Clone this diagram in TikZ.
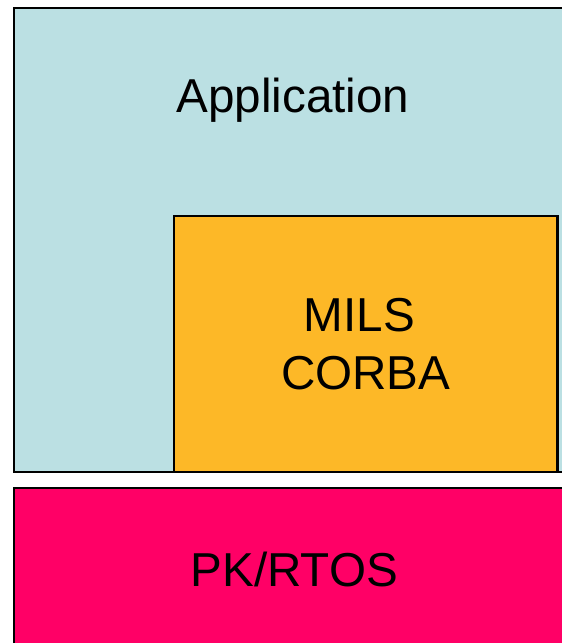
\documentclass[tikz,border=0pt]{standalone}
\usepackage{fontspec}
\setmainfont{Liberation Sans}
\usetikzlibrary{positioning}
\definecolor{appblue}{HTML}{BBE0E3}
\definecolor{corbaorange}{HTML}{FDB827}
\definecolor{rtospink}{HTML}{FF0066}

\begin{document}
\begin{tikzpicture}[x=1pt, y=-1pt,
  layer/.style={rectangle, draw=black, line width=2.4pt, inner sep=0pt, anchor=north west},
  big text/.style={font=\fontsize{47.6}{58}\selectfont, align=center}]
\useasboundingbox (0,0) rectangle (562,643);

% Application layer (runs off the right edge)
\node [layer, fill=appblue, minimum width=570pt, minimum height=463.5pt] (app) at (13,7) {};
\node [big text] (app-label) at (293,100) {Application};

% MILS CORBA sits in the lower right of the application
\node [layer, fill=corbaorange, minimum width=383.3pt, minimum height=255.5pt, big text] (corba) at (173,215)
  {MILS\rule{0.278em}{0pt}\\CORBA};

% Separation kernel / RTOS underneath
\node [layer, fill=rtospink, minimum width=560pt, minimum height=162pt, big text] (rtos) at (13,487) {PK/RTOS};
\end{tikzpicture}
\end{document}
